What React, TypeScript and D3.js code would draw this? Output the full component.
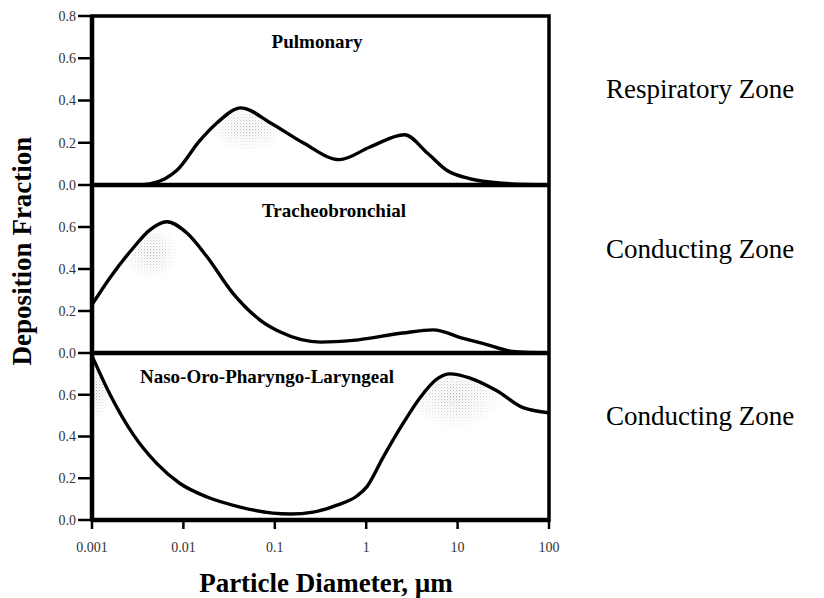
import React, { useEffect, useRef } from "react";
import * as d3 from "d3";

// particle diameters (µm) and deposition fraction per region
const pulmD = [0.001, 0.00316, 0.00427, 0.0063, 0.0085, 0.0151, 0.0234, 0.0427, 0.089, 0.204, 0.51, 1.1, 2.63, 4.7, 7.6, 13.5, 31.6, 100];
const pulmF = [0, 0, 0.005, 0.03, 0.07, 0.21, 0.295, 0.365, 0.295, 0.2, 0.12, 0.18, 0.238, 0.15, 0.07, 0.03, 0.008, 0];

const tbD = [0.001, 0.00158, 0.00282, 0.00427, 0.0066, 0.011, 0.0182, 0.0347, 0.069, 0.115, 0.316, 0.72, 2.5, 5.4, 11.5, 20.9, 39.8, 100];
const tbF = [0.23, 0.36, 0.5, 0.585, 0.625, 0.57, 0.457, 0.285, 0.157, 0.1, 0.052, 0.06, 0.095, 0.11, 0.07, 0.04, 0.008, 0];

const nopD = [0.001, 0.00158, 0.00282, 0.00513, 0.0091, 0.0182, 0.0417, 0.095, 0.148, 0.263, 0.479, 0.79, 1.02, 1.53, 2.51, 3.88, 5.96, 8.26, 13.7, 26.9, 52, 100];
const nopF = [0.786, 0.6, 0.41, 0.27, 0.176, 0.11, 0.062, 0.033, 0.029, 0.038, 0.071, 0.115, 0.16, 0.3, 0.46, 0.586, 0.676, 0.7, 0.68, 0.619, 0.538, 0.514];

const panelNames = ["Pulmonary", "Tracheobronchial", "Naso-Oro-Pharyngo-Laryngeal"];
const zoneNames = ["Respiratory Zone", "Conducting Zone", "Conducting Zone"];
// stippled shading spots: [diameter, fraction]
const shadeSpots = [
  [[0.05, 0.27]],
  [[0.0044, 0.48]],
  [[0.0011, 0.62], [9.3, 0.595]],
];

const xTicks = [0.001, 0.01, 0.1, 1, 10, 100];
const xTickLabels = ["0.001", "0.01", "0.1", "1", "10", "100"];
const yTicksTop = [0, 0.2, 0.4, 0.6, 0.8];
const yTicksOther = [0, 0.2, 0.4, 0.6];

const serif = "'Liberation Serif', 'DejaVu Serif', serif";

export default function App() {
  const ref = useRef<SVGSVGElement>(null);

  useEffect(() => {
    const node = ref.current;
    if (!node) return;
    const svg = d3.select(node);
    svg.selectAll("*").remove();

    const left = 92, right = 549;
    const tops = [16, 185, 353];
    const bottoms = [185, 353, 520];
    const titleX = [317, 334, 140];
    const titleY = [48, 217, 383];
    const zoneY = [98, 258, 425];
    const spotR = [[38, 24], [28, 28], [[16, 30], [50, 34]]];

    const x = d3.scaleLog().domain([0.001, 100]).range([left, right]);

    const series = [
      pulmD.map((d, i) => ({ d, f: pulmF[i] })),
      tbD.map((d, i) => ({ d, f: tbF[i] })),
      nopD.map((d, i) => ({ d, f: nopF[i] })),
    ];

    const defs = svg.append("defs");
    const pat = defs
      .append("pattern")
      .attr("id", "dots")
      .attr("width", 3)
      .attr("height", 3)
      .attr("patternUnits", "userSpaceOnUse");
    pat.append("rect").attr("x", 0).attr("y", 0).attr("width", 1.1).attr("height", 1.1).attr("fill", "#888");
    pat.append("rect").attr("x", 1.5).attr("y", 1.5).attr("width", 1).attr("height", 1).attr("fill", "#aaa");
    const grad = defs.append("radialGradient").attr("id", "fade");
    grad.append("stop").attr("offset", "0%").attr("stop-color", "#fff").attr("stop-opacity", 0.75);
    grad.append("stop").attr("offset", "55%").attr("stop-color", "#fff").attr("stop-opacity", 0.35);
    grad.append("stop").attr("offset", "100%").attr("stop-color", "#fff").attr("stop-opacity", 0);

    series.forEach((data, p) => {
      const y = d3.scaleLinear().domain([0, 0.8]).range([bottoms[p], tops[p]]);
      const line = d3
        .line<{ d: number; f: number }>()
        .x(v => x(v.d))
        .y(v => y(v.f))
        .curve(d3.curveMonotoneX);
      const area = d3
        .area<{ d: number; f: number }>()
        .x(v => x(v.d))
        .y0(y(0))
        .y1(v => y(v.f))
        .curve(d3.curveMonotoneX);

      defs.append("clipPath").attr("id", `under${p}`).append("path").attr("d", area(data) || "");

      const g = svg.append("g");

      // stippled shading below the peaks
      const sh = g.append("g").attr("clip-path", `url(#under${p})`);
      shadeSpots[p].forEach(([sd, sf], k) => {
        const r: any = p === 2 ? (spotR[2] as number[][])[k] : spotR[p];
        const mid = `m${p}_${k}`;
        const mask = defs.append("mask").attr("id", mid);
        mask.append("ellipse")
          .attr("cx", x(sd))
          .attr("cy", y(sf))
          .attr("rx", r[0])
          .attr("ry", r[1])
          .attr("fill", "url(#fade)");
        sh.append("rect")
          .attr("x", left)
          .attr("y", tops[p])
          .attr("width", right - left)
          .attr("height", bottoms[p] - tops[p])
          .attr("fill", "url(#dots)")
          .attr("mask", `url(#${mid})`);
      });

      g.append("path")
        .attr("d", line(data) || "")
        .attr("fill", "none")
        .attr("stroke", "#000")
        .attr("stroke-width", 3.4)
        .attr("stroke-linejoin", "round");

      // y ticks
      const ticks = p === 0 ? yTicksTop : yTicksOther;
      ticks.forEach(t => {
        g.append("line")
          .attr("x1", left - 14)
          .attr("x2", left)
          .attr("y1", y(t))
          .attr("y2", y(t))
          .attr("stroke", "#000")
          .attr("stroke-width", 2.5);
        g.append("text")
          .attr("x", left - 16)
          .attr("y", y(t))
          .attr("dy", "0.35em")
          .attr("text-anchor", "end")
          .attr("font-family", serif)
          .attr("font-size", 14)
          .attr("fill", "#333")
          .text(t.toFixed(1));
      });

      // panel title
      g.append("text")
        .attr("x", titleX[p])
        .attr("y", titleY[p])
        .attr("text-anchor", p === 2 ? "start" : "middle")
        .attr("font-family", serif)
        .attr("font-weight", "bold")
        .attr("font-size", 19)
        .text(panelNames[p]);

      // zone label
      svg.append("text")
        .attr("x", 606)
        .attr("y", zoneY[p])
        .attr("font-family", serif)
        .attr("font-size", 27)
        .text(zoneNames[p]);
    });

    // frames
    const fr = svg.append("g").attr("stroke", "#000").attr("fill", "none");
    fr.append("rect")
      .attr("x", left)
      .attr("y", tops[0])
      .attr("width", right - left)
      .attr("height", bottoms[2] - tops[0])
      .attr("stroke-width", 3.5);
    [bottoms[0], bottoms[1]].forEach(yy => {
      fr.append("line").attr("x1", left).attr("x2", right).attr("y1", yy).attr("y2", yy).attr("stroke-width", 4.5);
    });
    fr.append("line").attr("x1", left).attr("x2", left).attr("y1", tops[0]).attr("y2", bottoms[2]).attr("stroke-width", 4.5);
    fr.append("line").attr("x1", left).attr("x2", right).attr("y1", bottoms[2]).attr("y2", bottoms[2]).attr("stroke-width", 4.5);

    // x ticks
    xTicks.forEach((t, i) => {
      fr.append("line")
        .attr("x1", x(t))
        .attr("x2", x(t))
        .attr("y1", bottoms[2])
        .attr("y2", bottoms[2] + 9)
        .attr("stroke-width", 2.5);
      svg.append("text")
        .attr("x", x(t))
        .attr("y", 552)
        .attr("text-anchor", "middle")
        .attr("font-family", serif)
        .attr("font-size", 14)
        .attr("fill", "#333")
        .text(xTickLabels[i]);
    });

    // axis titles
    svg.append("text")
      .attr("x", 326)
      .attr("y", 592)
      .attr("text-anchor", "middle")
      .attr("font-family", serif)
      .attr("font-weight", "bold")
      .attr("font-size", 27)
      .text("Particle Diameter, µm");

    svg.append("text")
      .attr("transform", `translate(31, 251) rotate(-90)`)
      .attr("text-anchor", "middle")
      .attr("font-family", serif)
      .attr("font-weight", "bold")
      .attr("font-size", 27)
      .text("Deposition Fraction");
  }, []);

  return (
    <svg
      ref={ref}
      width={824}
      height={598}
      style={{ position: "absolute", left: 0, top: 0, background: "#fff" }}
    />
  );
}
